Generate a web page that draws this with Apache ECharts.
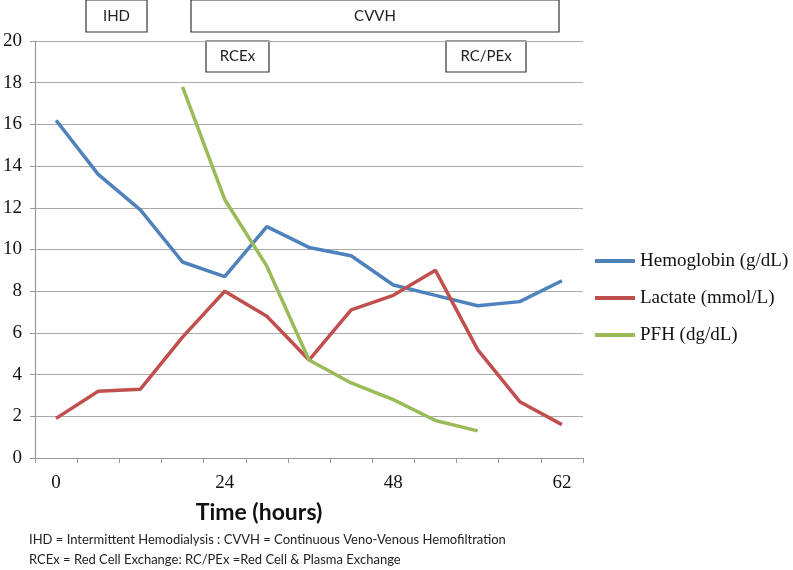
<!DOCTYPE html>
<html><head><meta charset="utf-8">
<script src="https://cdn.jsdelivr.net/npm/echarts@6/dist/echarts.min.js"></script>
<style>html,body{margin:0;padding:0;background:#fff}#c{width:793px;height:570px}</style>
</head><body><div id="c"></div>
<script>
var categories = ['0','','','','24','','','','48','','','','62'];
var hemoglobin = [16.2, 13.6, 11.9, 9.4, 8.7, 11.1, 10.1, 9.7, 8.3, 7.8, 7.3, 7.5, 8.5];
var lactate = [1.9, 3.2, 3.3, 5.8, 8.0, 6.8, 4.7, 7.1, 7.8, 9.0, 5.2, 2.7, 1.6];
var pfh = [null, null, null, 17.8, 12.4, 9.2, 4.7, 3.6, 2.8, 1.8, 1.3, null, null];
var seriesNames = ['Hemoglobin (g/dL)', 'Lactate (mmol/L)', 'PFH (dg/dL)'];
var yTicks = {min: 0, max: 20, interval: 2};

var serif = 'Liberation Serif';
var sans = 'Lato, "Open Sans", sans-serif';
var chart = echarts.init(document.getElementById('c'));
function box(x, y, w, h, label) {
  return {type: 'group', children: [
    {type: 'rect', shape: {x: x, y: y, width: w, height: h}, style: {fill: '#fff', stroke: '#333', lineWidth: 1.2}},
    {type: 'text', x: x + w / 2, y: y + h / 2, style: {text: label, fill: '#222', font: '15px ' + sans, textAlign: 'center', textVerticalAlign: 'middle'}}
  ]};
}
var lineStyle = {width: 3.5};
chart.setOption({
  animation: false,
  color: ['#4F81BD', '#C0504D', '#9BBB59'],
  grid: {left: 35, right: 210, top: 41, bottom: 112},
  legend: {
    orient: 'vertical', left: 590, top: 246, itemWidth: 40, itemHeight: 4, itemGap: 17,
    icon: 'rect', data: seriesNames,
    textStyle: {fontFamily: serif, fontSize: 19, color: '#111', lineHeight: 20}
  },
  xAxis: {
    type: 'category', data: categories, boundaryGap: true,
    axisLine: {lineStyle: {color: '#999', width: 1.2}},
    axisTick: {show: true, interval: 0, length: 5, lineStyle: {color: '#999'}},
    axisLabel: {interval: 0, margin: 16, fontFamily: serif, fontSize: 19, color: '#111'},
    splitLine: {show: false}
  },
  yAxis: {
    type: 'value', min: yTicks.min, max: yTicks.max, interval: yTicks.interval,
    axisLine: {show: true, lineStyle: {color: '#999', width: 1.2}},
    axisTick: {show: true, length: 5, lineStyle: {color: '#999'}},
    axisLabel: {margin: 13, fontFamily: serif, fontSize: 19, color: '#111'},
    splitLine: {lineStyle: {color: '#aaa', width: 1.2}}
  },
  series: [
    {name: seriesNames[0], type: 'line', data: hemoglobin, symbol: 'none', lineStyle: lineStyle},
    {name: seriesNames[1], type: 'line', data: lactate, symbol: 'none', lineStyle: lineStyle},
    {name: seriesNames[2], type: 'line', data: pfh, symbol: 'none', lineStyle: lineStyle}
  ],
  graphic: [
    box(86, 0, 61, 32, 'IHD'),
    box(191, 0, 368, 32, 'CVVH'),
    box(206, 41, 63, 31, 'RCEx'),
    box(446, 41, 80, 31, 'RC/PEx'),
    {type: 'text', x: 259, y: 513, style: {text: 'Time (hours)', fill: '#111', font: 'bold 23px ' + sans, textAlign: 'center', textVerticalAlign: 'middle'}},
    {type: 'text', x: 29, y: 540, style: {text: 'IHD = Intermittent Hemodialysis : CVVH = Continuous Veno-Venous Hemofiltration', fill: '#222', font: '13px ' + sans, textAlign: 'left', textVerticalAlign: 'middle'}},
    {type: 'text', x: 29, y: 560, style: {text: 'RCEx = Red Cell Exchange: RC/PEx =Red Cell & Plasma Exchange', fill: '#222', font: '13px ' + sans, textAlign: 'left', textVerticalAlign: 'middle'}}
  ]
});
</script></body></html>
